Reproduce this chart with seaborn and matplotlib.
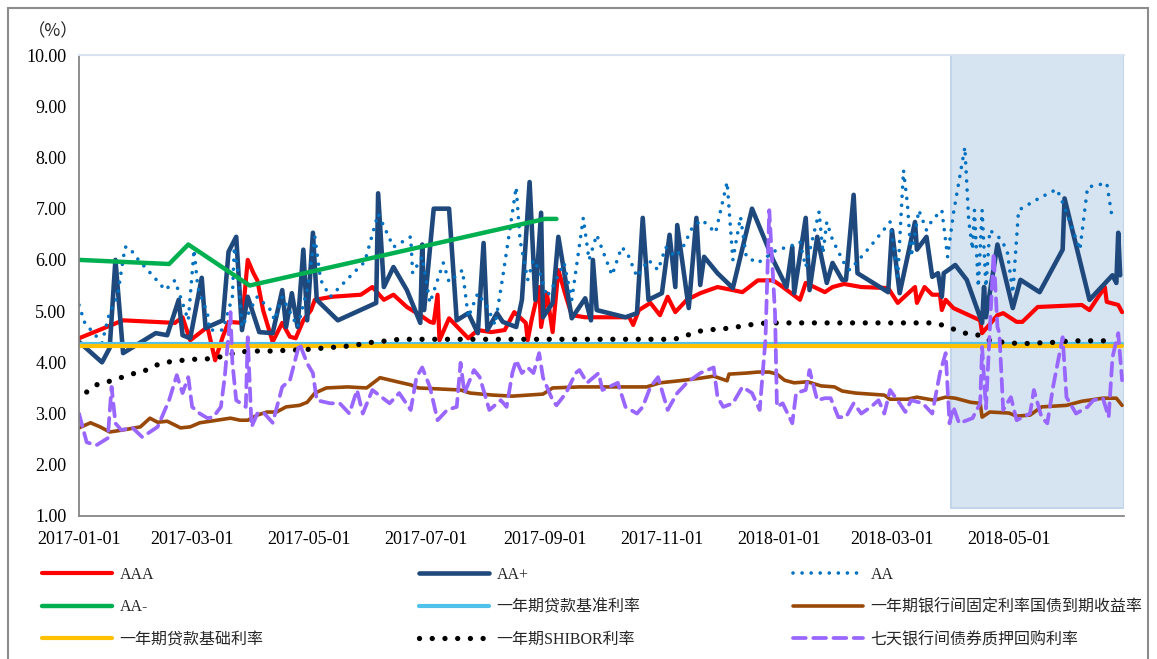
import numpy as np
import pandas as pd
import seaborn as sns
from matplotlib import pyplot as plt
import matplotlib.dates as mdates
from matplotlib.patches import Rectangle
from matplotlib.ticker import FormatStrFormatter

# day offsets are counted from 2017-01-01
START = pd.Timestamp('2017-01-01')
END_DAY = 545
SHADE_START, SHADE_END = 455, 545

aaa_days = [0, 23, 50, 54, 58, 67, 71, 75, 78, 85, 88, 91, 93, 96, 101, 106, 110, 113, 117, 121,
            123, 132, 147, 153, 159, 164, 171, 178, 183, 185, 187, 188, 193, 203, 208, 215, 222, 227,
            233, 234, 236, 240, 241, 244, 247, 250, 254, 257, 264, 274, 287, 289, 292, 298, 303, 307,
            311, 317, 324, 333, 341, 346, 354, 362, 366, 376, 379, 389, 393, 399, 408, 422, 427, 436,
            437, 441, 445, 449, 450, 452, 456, 470, 471, 479, 482, 489, 492, 500, 523, 527, 535, 536,
            542, 544]
aaa_vals = [4.47, 4.82, 4.77, 4.88, 4.43, 4.69, 4.04, 4.5, 4.79, 4.77, 6.0, 5.74, 5.6, 5.02, 4.4,
            4.77, 4.5, 4.47, 4.82, 5.02, 5.22, 5.28, 5.32, 5.47, 5.22, 5.32, 5.08, 4.92, 4.79, 4.77,
            5.32, 4.43, 4.86, 4.47, 4.63, 4.59, 4.63, 4.98, 4.77, 4.43, 4.82, 5.47, 4.69, 5.35, 4.59,
            5.8, 5.28, 4.92, 4.88, 4.88, 4.88, 4.73, 5.02, 5.16, 4.92, 5.28, 4.98, 5.22, 5.35, 5.47,
            5.41, 5.37, 5.6, 5.6, 5.5, 5.22, 5.55, 5.37, 5.47, 5.53, 5.47, 5.45, 5.16, 5.47, 5.16,
            5.47, 5.32, 5.32, 5.02, 5.22, 5.06, 4.82, 4.57, 4.92, 4.96, 4.79, 4.79, 5.08, 5.12, 5.02,
            5.47, 5.18, 5.12, 4.98]

aap_days = [0, 12, 16, 19, 23, 40, 46, 52, 54, 58, 64, 66, 75, 78, 82, 85, 88, 94, 101, 106,
            108, 111, 114, 117, 119, 122, 124, 135, 155, 156, 159, 164, 171, 178, 179, 180, 185, 193,
            197, 203, 208, 211, 213, 218, 221, 228, 231, 235, 238, 241, 242, 247, 250, 257, 264, 267,
            268, 270, 285, 291, 294, 297, 304, 308, 311, 312, 318, 322, 324, 326, 333, 341, 351, 362,
            369, 372, 373, 379, 381, 385, 390, 393, 398, 400, 404, 406, 422, 424, 428, 436, 437, 442,
            445, 448, 450, 451, 457, 463, 471, 472, 473, 479, 487, 491, 501, 513, 514, 527, 539, 541,
            542, 543]
aap_vals = [4.4, 4.0, 4.28, 6.0, 4.18, 4.57, 4.53, 5.22, 4.53, 4.47, 5.65, 4.67, 4.82, 6.16, 6.45,
            4.63, 5.28, 4.59, 4.57, 5.41, 4.69, 5.35, 4.69, 6.2, 4.82, 6.53, 5.22, 4.82, 5.16, 7.3,
            5.47, 5.86, 5.41, 4.77, 6.3, 5.02, 7.0, 7.0, 4.82, 4.96, 4.57, 6.33, 4.63, 4.96, 4.79,
            4.69, 5.22, 7.52, 5.22, 6.92, 4.88, 5.16, 6.45, 4.86, 5.25, 4.82, 6.0, 5.02, 4.88, 4.96,
            6.82, 5.22, 5.35, 6.49, 5.47, 6.68, 5.06, 6.82, 5.51, 6.06, 5.74, 5.45, 7.0, 6.0, 5.47,
            6.25, 5.35, 6.82, 5.41, 6.45, 5.55, 5.94, 5.61, 5.61, 7.27, 5.74, 5.37, 6.58, 5.35, 6.74,
            6.2, 6.45, 5.67, 5.74, 5.28, 5.74, 5.9, 5.61, 4.77, 5.47, 4.88, 6.3, 5.06, 5.61, 5.37,
            6.2, 7.2, 5.22, 5.7, 5.55, 6.53, 5.7]

aa_days = [0, 3, 12, 16, 20, 24, 26, 31, 39, 45, 50, 57, 60, 62, 67, 68, 75, 80, 81, 83, 85, 90,
           93, 100, 102, 106, 114, 119, 123, 126, 131, 136, 143, 149, 156, 164, 173, 174, 179, 183,
           190, 193, 200, 203, 208, 213, 217, 221, 228, 230, 234, 237, 240, 244, 247, 253, 257, 263,
           266, 270, 278, 283, 286, 291, 297, 302, 306, 311, 315, 320, 325, 332, 338, 341, 345, 348,
           354, 364, 370, 376, 379, 386, 388, 390, 393, 399, 402, 412, 423, 427, 430, 432, 434, 438,
           442, 445, 450, 453, 456, 462, 464, 466, 467, 469, 471, 473, 475, 480, 484, 487, 490, 501,
           510, 514, 522, 526, 536, 539]
aa_vals = [5.12, 4.77, 4.38, 4.98, 5.28, 6.25, 6.25, 6.0, 5.67, 5.41, 5.6, 4.82, 6.2, 5.45, 4.96,
           4.63, 4.63, 5.28, 6.25, 5.74, 4.69, 5.08, 5.28, 5.02, 4.82, 5.28, 4.69, 5.41, 6.45, 5.61,
           5.28, 5.47, 5.74, 5.96, 6.9, 6.25, 6.45, 5.74, 6.06, 5.16, 5.94, 5.57, 5.8, 4.88, 5.35,
           5.08, 4.73, 5.67, 7.42, 6.39, 5.61, 6.0, 5.8, 5.28, 5.47, 5.94, 5.22, 6.82, 6.0, 6.49,
           5.7, 6.25, 6.13, 5.67, 6.0, 5.8, 6.25, 6.06, 6.25, 6.64, 6.78, 6.53, 7.52, 6.0, 6.84,
           6.06, 5.94, 6.2, 6.25, 6.35, 5.86, 6.94, 6.13, 6.74, 6.39, 5.94, 5.8, 6.23, 6.74, 5.67,
           7.75, 7.11, 6.06, 6.97, 6.58, 6.78, 6.97, 6.06, 6.9, 8.2, 6.78, 6.2, 6.97, 5.47, 6.97,
           5.47, 6.58, 6.43, 6.2, 5.35, 6.97, 7.21, 7.38, 7.03, 6.2, 7.42, 7.5, 6.78]

aam_days = [0, 47, 57, 89, 243, 249]
aam_vals = [6.0, 5.92, 6.3, 5.5, 6.8, 6.8]

flat_days = [0, 544]
loan_base_vals = [4.35, 4.35]
lpr_vals = [4.31, 4.31]

shibor_days = [4, 9, 15, 21, 27, 33, 39, 45, 52, 58, 64, 71, 77, 83, 90, 96, 103, 109, 115, 122,
               128, 135, 141, 148, 154, 161, 167, 200, 240, 280, 310, 315, 321, 327, 334, 340, 346,
               353, 359, 400, 444, 450, 456, 462, 468, 473, 480, 486, 492, 498, 505, 511, 518, 525,
               531, 537]
shibor_vals = [3.42, 3.56, 3.62, 3.69, 3.77, 3.81, 3.93, 4.0, 4.03, 4.06, 4.06, 4.08, 4.14, 4.2,
               4.22, 4.22, 4.22, 4.24, 4.24, 4.26, 4.28, 4.3, 4.32, 4.36, 4.4, 4.42, 4.45, 4.45,
               4.45, 4.45, 4.45, 4.49, 4.59, 4.63, 4.65, 4.67, 4.71, 4.75, 4.77, 4.77, 4.77, 4.73,
               4.65, 4.57, 4.55, 4.44, 4.4, 4.38, 4.36, 4.38, 4.38, 4.4, 4.42, 4.42, 4.42, 4.42]

bond_days = [0, 6, 11, 16, 23, 32, 37, 41, 46, 53, 58, 63, 72, 79, 84, 88, 93, 98, 103, 108, 115,
             119, 123, 129, 140, 150, 157, 166, 173, 177, 199, 204, 216, 226, 242, 247, 261, 275,
             296, 303, 313, 324, 331, 338, 339, 348, 354, 360, 364, 368, 373, 380, 387, 394, 398,
             405, 420, 423, 432, 437, 446, 452, 457, 465, 470, 471, 475, 485, 489, 496, 502, 515,
             523, 534, 541, 544]
bond_vals = [2.72, 2.82, 2.74, 2.64, 2.68, 2.74, 2.91, 2.83, 2.85, 2.72, 2.74, 2.82, 2.87, 2.91,
             2.87, 2.87, 2.97, 3.03, 3.03, 3.13, 3.16, 3.22, 3.4, 3.5, 3.52, 3.5, 3.7, 3.62, 3.56,
             3.5, 3.46, 3.4, 3.36, 3.34, 3.38, 3.5, 3.52, 3.52, 3.52, 3.6, 3.64, 3.69, 3.73, 3.64,
             3.77, 3.79, 3.81, 3.81, 3.77, 3.65, 3.6, 3.62, 3.54, 3.52, 3.44, 3.4, 3.36, 3.28, 3.28,
             3.32, 3.26, 3.32, 3.3, 3.22, 3.2, 2.93, 3.03, 3.01, 2.95, 2.97, 3.13, 3.16, 3.24, 3.3,
             3.3, 3.16]

repo_days = [0, 4, 9, 15, 17, 19, 22, 28, 33, 41, 47, 51, 54, 57, 59, 63, 67, 70, 74, 76, 79, 80,
             82, 87, 88, 90, 93, 96, 101, 106, 110, 115, 119, 122, 124, 131, 136, 141, 145, 148,
             153, 162, 167, 173, 176, 179, 183, 187, 192, 197, 199, 201, 206, 209, 214, 220, 223,
             226, 228, 231, 234, 237, 240, 242, 247, 249, 254, 259, 261, 265, 271, 273, 281, 285,
             291, 294, 298, 302, 307, 312, 317, 324, 331, 333, 336, 341, 346, 351, 355, 358, 360,
             363, 364, 367, 372, 374, 379, 381, 385, 389, 392, 396, 400, 404, 408, 413, 417, 420,
             423, 428, 431, 434, 440, 445, 449, 452, 454, 456, 459, 466, 470, 471, 473, 477, 479,
             480, 482, 486, 489, 496, 498, 502, 505, 508, 513, 515, 520, 526, 529, 534, 537, 539,
             542, 544]
repo_vals = [3.0, 2.44, 2.38, 2.52, 3.52, 2.81, 2.68, 2.72, 2.54, 2.74, 3.26, 3.75, 3.4, 3.71,
             3.13, 3.0, 2.91, 2.93, 3.13, 3.71, 4.98, 3.99, 3.26, 3.13, 4.49, 2.74, 3.0, 3.03, 2.82,
             3.52, 3.65, 4.37, 3.98, 3.79, 3.26, 3.2, 3.2, 3.0, 3.46, 3.0, 3.46, 3.2, 3.4, 3.07,
             3.71, 3.9, 3.52, 2.87, 3.07, 3.13, 3.99, 3.4, 3.85, 3.71, 3.07, 3.26, 3.13, 3.79, 4.04,
             3.79, 3.9, 3.79, 4.18, 3.7, 3.26, 3.16, 3.4, 3.79, 3.85, 3.6, 3.79, 3.46, 3.6, 3.13,
             3.0, 3.13, 3.52, 3.71, 3.07, 3.4, 3.6, 3.79, 3.9, 3.32, 3.13, 3.2, 3.52, 3.4, 3.07,
             4.44, 6.97, 4.96, 3.13, 3.2, 2.81, 3.4, 3.46, 3.85, 3.26, 3.3, 3.3, 2.93, 2.93, 3.2,
             3.0, 3.13, 3.26, 3.0, 3.46, 3.2, 3.03, 3.26, 3.2, 3.0, 3.79, 4.18, 2.81, 3.13, 2.81,
             2.91, 3.2, 4.3, 3.1, 6.13, 4.69, 4.57, 3.07, 3.32, 2.87, 3.0, 3.46, 2.93, 2.81, 3.52,
             4.49, 3.32, 3.0, 3.13, 3.26, 3.3, 2.93, 4.1, 4.57, 3.65]

legend_cols = [
    ['AAA', 'AA-', '一年期贷款基础利率'],
    ['AA+', '一年期贷款基准利率', '一年期SHIBOR利率'],
    ['AA', '一年期银行间固定利率国债到期收益率', '七天银行间债券质押回购利率'],
]


def to_dates(days):
    return START + pd.to_timedelta(days, unit='D')


sns.set_style('white')
plt.rcParams['font.family'] = ['Liberation Serif', 'Noto Sans CJK SC']
plt.rcParams['axes.unicode_minus'] = False

W, H = 1157, 659
fig = plt.figure(figsize=(W / 100, H / 100), dpi=100)
ax = fig.add_axes([79 / W, 1 - 516 / H, (1124 - 79) / W, (516 - 55) / H])

# highlighted period
x0 = mdates.date2num(to_dates(SHADE_START))
x1 = mdates.date2num(to_dates(SHADE_END))
ax.add_patch(Rectangle((x0, 1.15), x1 - x0, 8.85, facecolor='#d6e3f0',
                       edgecolor='#c3d5eb', lw=1.5, zorder=0))

dot = dict(dash_capstyle='round')
series = [
    ('AAA', aaa_days, aaa_vals, dict(color='#ff0000', lw=3.0)),
    ('AA+', aap_days, aap_vals, dict(color='#1f497d', lw=3.3)),
    ('AA', aa_days, aa_vals, dict(color='#0070c0', lw=2.6, linestyle=(0, (0.01, 2.5)), **dot)),
    ('AA-', aam_days, aam_vals, dict(color='#00b050', lw=3.2)),
    ('一年期贷款基准利率', flat_days, loan_base_vals, dict(color='#4fc1ea', lw=3.0)),
    ('一年期银行间固定利率国债到期收益率', bond_days, bond_vals, dict(color='#984807', lw=2.6)),
    ('一年期贷款基础利率', flat_days, lpr_vals, dict(color='#ffc000', lw=3.0)),
    ('一年期SHIBOR利率', shibor_days, shibor_vals,
     dict(color='black', lw=3.8, linestyle=(0, (0.01, 2.4)), **dot)),
    ('七天银行间债券质押回购利率', repo_days, repo_vals,
     dict(color='#9966ff', lw=2.7, linestyle=(0, (3.4, 2.0)), **dot)),
]

for name, days, vals, kw in series:
    sns.lineplot(x=to_dates(days), y=vals, ax=ax, label=name, legend=False,
                 estimator=None, sort=False, **kw)

ax.set_xlim(START, to_dates(END_DAY))
ax.set_ylim(1, 10)
ax.set_yticks(np.arange(1, 10.5, 1))
ax.yaxis.set_major_formatter(FormatStrFormatter('%.2f'))
ax.xaxis.set_major_locator(mdates.MonthLocator(bymonth=[1, 3, 5, 7, 9, 11], bymonthday=1))
ax.xaxis.set_major_formatter(mdates.DateFormatter('%Y-%m-%d'))
ax.set_xlabel('')
ax.set_ylabel('')

ax.tick_params(axis='both', direction='out', length=5, width=1.2, color='#868686',
               labelsize=13, labelcolor='black')
ax.tick_params(axis='x', pad=6)
ax.tick_params(axis='y', pad=4)
for side in ['left', 'bottom']:
    ax.spines[side].set_color('#868686')
    ax.spines[side].set_linewidth(1.3)
ax.spines['top'].set_color('#dae3f3')
ax.spines['top'].set_linewidth(1.5)
ax.spines['right'].set_visible(False)

fig.text(53 / W, 1 - 31 / H, '（%）', ha='center', va='center', fontsize=12.5,
         family=['Noto Sans CJK SC', 'DejaVu Sans'])

# legend in three columns below the plot
handles, labels = ax.get_legend_handles_labels()
lookup = dict(zip(labels, handles))
for names, xpos in zip(legend_cols, [42, 419, 793]):
    fig.legend([lookup[n] for n in names], names, loc='upper left',
               bbox_to_anchor=(xpos / W, 1 - 567 / H), frameon=False, fontsize=11.5,
               handlelength=4.4, handletextpad=0.45, labelspacing=1.03,
               borderpad=0, borderaxespad=0)

# outer frame of the picture
fig.patches.append(Rectangle((8 / W, -0.1), (1148 - 8) / W, 1.1 - 8 / H, transform=fig.transFigure,
                             fill=False, edgecolor='#8c8c8c', lw=1.5))

fig.savefig('out.png', dpi=100)
